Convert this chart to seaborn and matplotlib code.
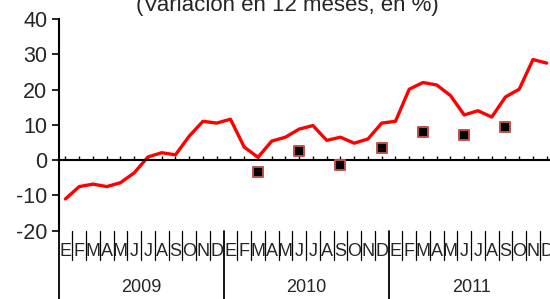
import numpy as np
import pandas as pd
import matplotlib
matplotlib.use("Agg")
import matplotlib.pyplot as plt
import seaborn as sns

# monthly series, Jan 2009 .. Dec 2011 (variation in 12 months, %)
month_letters = ["E", "F", "M", "A", "M", "J", "J", "A", "S", "O", "N", "D"]
years = ["2009", "2010", "2011"]
line_values = [
    -11.0, -7.5, -6.8, -7.5, -6.4, -3.6, 0.9, 2.1, 1.5, 6.8, 11.0, 10.5,
    11.6, 3.7, 0.8, 5.4, 6.5, 8.8, 9.8, 5.6, 6.5, 4.8, 6.0, 10.5,
    11.0, 20.1, 22.0, 21.3, 18.3, 12.8, 14.0, 12.2, 17.9, 20.1, 28.5, 27.5,
]
# quarterly points (month index -> value)
quarter_idx = [14, 17, 20, 23, 26, 29, 32]
quarter_values = [-3.4, 2.7, -1.5, 3.4, 7.9, 7.2, 9.3]

n = len(line_values)
df_line = pd.DataFrame({"t": np.arange(n), "v": line_values})
df_pts = pd.DataFrame({"t": quarter_idx, "v": quarter_values})

sns.set_style("white")
plt.rcParams["font.family"] = ["Liberation Sans", "DejaVu Sans"]
plt.rcParams["axes.unicode_minus"] = False

fig = plt.figure(figsize=(5.5, 2.99), dpi=100)
ax = fig.add_axes([58.6 / 550, 1 - 230.7 / 299, 495 / 550, 211.7 / 299])

sns.lineplot(data=df_line, x="t", y="v", ax=ax, color="#ff0000", linewidth=2.4)
sns.scatterplot(data=df_pts, x="t", y="v", ax=ax, marker="s", s=55,
                color="black", edgecolor="#c0504d", linewidth=1.4, zorder=5)

ax.set_xlim(-0.5, n - 0.5)
ax.set_ylim(-20, 40)
ax.set_yticks([-20, -10, 0, 10, 20, 30, 40])
ax.set_xlabel("")
ax.set_ylabel("")

for s in ["top", "right"]:
    ax.spines[s].set_visible(False)
ax.spines["bottom"].set_position(("data", 0))
ax.spines["bottom"].set_linewidth(1.5)
ax.spines["left"].set_linewidth(1.5)
ax.spines["left"].set_color("black")
ax.spines["bottom"].set_color("black")

# ticks on zero axis: boundaries down, centers up
ax.set_xticks(np.arange(n - 1) + 0.5)
ax.set_xticks(np.arange(n), minor=True)
ax.tick_params(axis="x", which="major", direction="out", length=4.2, width=1.0,
               color="black", labelbottom=False)
ax.tick_params(axis="x", which="minor", direction="in", length=3.2, width=1.0,
               color="black", bottom=True)
ax.tick_params(axis="y", direction="out", length=5, width=1.2, color="black",
               left=True, labelsize=15.5, pad=3)

# category labels below the plot
tr = ax.get_xaxis_transform()
for i in range(n):
    ax.text(i, -0.098, month_letters[i % 12], transform=tr, ha="center",
            va="center", fontsize=13)
for b in np.arange(n + 1) - 0.5:
    k = int(b + 0.5)
    if k % 12 == 0:
        ax.plot([b, b], [0, -0.33], transform=tr, color="black", lw=1.3,
                clip_on=False)
    else:
        ax.plot([b, b], [0, -0.14], transform=tr, color="black", lw=0.9,
                clip_on=False)
for j, yr in enumerate(years):
    ax.text(j * 12 + 5.5, -0.27, yr, transform=tr, ha="center", va="center",
            fontsize=13)

fig.text(287.5 / 550, 1 - 10.7 / 299, "(Variación en 12 meses, en %)",
         ha="center", va="baseline", fontsize=16)

fig.savefig("out.png", dpi=100)
